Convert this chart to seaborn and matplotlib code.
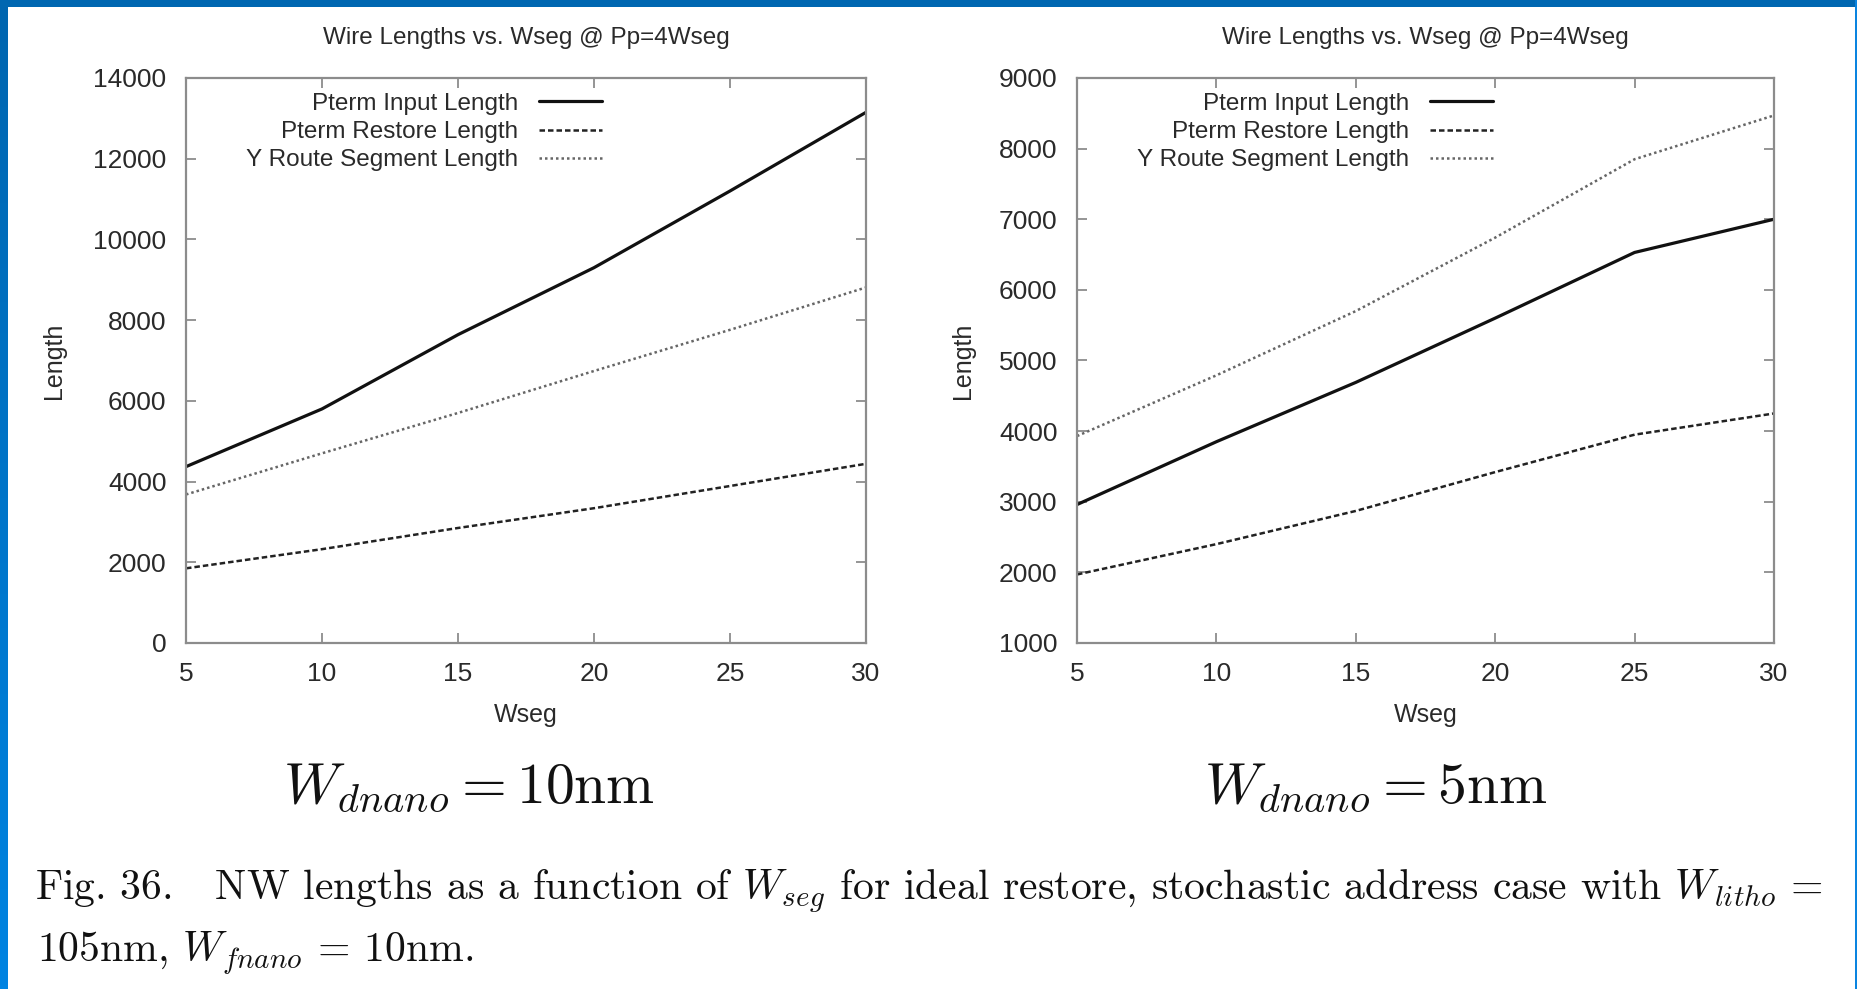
import numpy as np
import pandas as pd
import matplotlib
matplotlib.use("Agg")
import matplotlib.pyplot as plt
import seaborn as sns

# Wire lengths versus segment width, two nanowire diameters
wseg = [5, 10, 15, 20, 25, 30]

input_10nm = [4370, 5800, 7640, 9300, 11200, 13150]
restore_10nm = [1850, 2325, 2850, 3340, 3890, 4440]
yroute_10nm = [3680, 4700, 5700, 6740, 7760, 8810]

input_5nm = [2960, 3850, 4690, 5600, 6530, 7000]
restore_5nm = [1970, 2400, 2870, 3420, 3950, 4250]
yroute_5nm = [3930, 4790, 5700, 6740, 7850, 8470]

series_names = ["Pterm Input Length", "Pterm Restore Length", "Y Route Segment Length"]
plot_title = "Wire Lengths vs. Wseg @ Pp=4Wseg"
subtitles = [r"$W_{dnano} = 10\mathrm{nm}$", r"$W_{dnano} = 5\mathrm{nm}$"]
caption_1 = r"Fig. 36.   NW lengths as a function of $W_{seg}$ for ideal restore, stochastic address case with $W_{litho}$ ="
caption_2 = r"105nm, $W_{fnano}$ = 10nm."

sns.set_style("white")
sans = ["Liberation Sans Narrow", "Liberation Sans", "DejaVu Sans"]
plt.rcParams["font.family"] = sans
plt.rcParams["mathtext.fontset"] = "cm"

FRAME = "#8c8c8c"
TXT = "#2a2a2a"

fig = plt.figure(figsize=(18.58, 9.89), dpi=100)
fig.patch.set_facecolor("white")

# blue slide frame
fig.add_artist(plt.Rectangle((0, 1 - 7 / 989), 1, 7 / 989, transform=fig.transFigure,
                             color="#0067b1", lw=0, zorder=0))
grad_ax = fig.add_axes([0, 0, 8 / 1858, 1 - 7 / 989])
grad_ax.imshow(np.linspace(0, 1, 256).reshape(-1, 1), aspect="auto",
               cmap=matplotlib.colors.LinearSegmentedColormap.from_list("b", ["#0066b0", "#0084e2"]))
grad_ax.set_axis_off()
fig.add_artist(plt.Rectangle((1 - 2.5 / 1858, 0), 2.5 / 1858, 1, transform=fig.transFigure,
                             color="#0a84e0", lw=0, zorder=0))

panels = [
    dict(rect=[186 / 1858, 1 - 643 / 989, 680 / 1858, 565 / 989],
         data=[input_10nm, restore_10nm, yroute_10nm],
         ylim=(0, 14000), ystep=2000, leg_x=0.612, ylab_x=-0.176),
    dict(rect=[1077 / 1858, 1 - 643 / 989, 697 / 1858, 565 / 989],
         data=[input_5nm, restore_5nm, yroute_5nm],
         ylim=(1000, 9000), ystep=1000, leg_x=0.597, ylab_x=-0.146),
]

styles = [
    dict(color="#111111", lw=2.3, ls="-"),
    dict(color="#222222", lw=1.8, ls=(0, (2.2, 1.2))),
    dict(color="#666666", lw=1.8, ls=(0, (1.0, 1.2))),
]

for p in panels:
    ax = fig.add_axes(p["rect"])
    for name, vals, st in zip(series_names, p["data"], styles):
        df = pd.DataFrame({"Wseg": wseg, "Length": vals})
        sns.lineplot(data=df, x="Wseg", y="Length", ax=ax, label=name,
                     color=st["color"], linewidth=st["lw"], linestyle=st["ls"])
    ax.set_xlim(5, 30)
    ax.set_ylim(*p["ylim"])
    ax.set_xticks(wseg)
    ax.set_yticks(np.arange(p["ylim"][0], p["ylim"][1] + 1, p["ystep"]))
    for s in ax.spines.values():
        s.set_color(FRAME)
        s.set_linewidth(1.6)
    ax.tick_params(direction="in", length=7, width=1.3, color=FRAME, pad=14,
                   labelsize=19, labelcolor=TXT, top=True, right=True,
                   bottom=True, left=True)
    ax.set_xlabel("Wseg", fontsize=18, color=TXT)
    ax.set_ylabel("Length", fontsize=18, color=TXT)
    ax.xaxis.set_label_coords(0.5, -0.106)
    ax.yaxis.set_label_coords(p["ylab_x"], 0.5)
    ax.set_title(plot_title, fontsize=17.5, color=TXT, y=1.07, pad=0, va="center")

    leg = ax.legend(loc="upper right", bbox_to_anchor=(p["leg_x"], 0.974),
                    frameon=False, markerfirst=False, fontsize=17.5,
                    handlelength=2.6, handletextpad=0.85, labelspacing=0.26,
                    borderpad=0, borderaxespad=0)
    for col in leg._legend_handle_box.get_children():
        col.align = "right"
    for t in leg.get_texts():
        t.set_color(TXT)

for x, s in zip([469 / 1858, 1376 / 1858], subtitles):
    fig.text(x, 1 - 803 / 989, s, ha="center", va="baseline", fontsize=41.5, color="#111111")

cap_font = ["cmr10", "DejaVu Serif"]
fig.text(35 / 1858, 1 - 900 / 989, caption_1, ha="left", va="baseline",
         fontsize=30, color="#111111", family=cap_font)
fig.text(37 / 1858, 1 - 962 / 989, caption_2, ha="left", va="baseline",
         fontsize=30, color="#111111", family=cap_font)

fig.savefig("out.png", dpi=100, facecolor="white")
